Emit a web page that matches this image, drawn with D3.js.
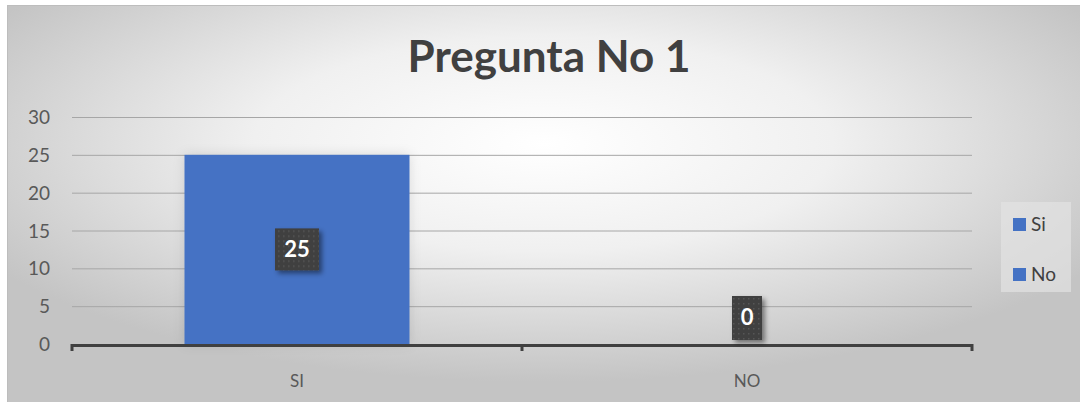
<!DOCTYPE html>
<html>
<head>
<meta charset="utf-8">
<script src="https://cdn.jsdelivr.net/npm/d3@7"></script>
<style>
body{margin:0;background:#fff;}
svg{display:block;}
text{font-family:Lato,"Open Sans",sans-serif;}
</style>
</head>
<body>
<script>
var categories = ["SI", "NO"];
var values = [25, 0];
var legendLabels = ["Si", "No"];
var yTicks = [0, 5, 10, 15, 20, 25, 30];

var W = 1080, H = 402;
var svg = d3.select("body").append("svg").attr("width", W).attr("height", H);
var defs = svg.append("defs");

var bg = defs.append("radialGradient").attr("id", "bg")
    .attr("cx", "50%").attr("cy", "35%").attr("r", "60%");
bg.append("stop").attr("offset", "0%").attr("stop-color", "#ffffff");
bg.append("stop").attr("offset", "45%").attr("stop-color", "#f0f0f0");
bg.append("stop").attr("offset", "100%").attr("stop-color", "#c4c4c4");

// dotted pattern for the label boxes
var pat = defs.append("pattern").attr("id", "dots")
    .attr("width", 5).attr("height", 5).attr("patternUnits", "userSpaceOnUse");
pat.append("rect").attr("width", 5).attr("height", 5).attr("fill", "#3f3f3f");
pat.append("rect").attr("x", 1).attr("y", 1).attr("width", 1.5).attr("height", 1.5).attr("fill", "#575757");

var sh = defs.append("filter").attr("id", "shadow")
    .attr("x", "-30%").attr("y", "-30%").attr("width", "170%").attr("height", "170%");
sh.append("feDropShadow").attr("dx", 3).attr("dy", 3).attr("stdDeviation", 2.5)
    .attr("flood-color", "#000").attr("flood-opacity", 0.45);

var glow = defs.append("filter").attr("id", "glow")
    .attr("x", "-20%").attr("y", "-10%").attr("width", "140%").attr("height", "120%");
glow.append("feDropShadow").attr("dx", 0).attr("dy", 0).attr("stdDeviation", 6)
    .attr("flood-color", "#000").attr("flood-opacity", 0.12);

svg.append("rect").attr("x", 7).attr("y", 5).attr("width", W - 7).attr("height", H - 5)
    .attr("fill", "url(#bg)");
svg.append("line").attr("x1", 7).attr("x2", W).attr("y1", 5.5).attr("y2", 5.5)
    .attr("stroke", "#bdbdbd");
svg.append("line").attr("x1", 7.5).attr("x2", 7.5).attr("y1", 5).attr("y2", H)
    .attr("stroke", "#bdbdbd");

svg.append("text").attr("x", 549).attr("y", 72)
    .attr("text-anchor", "middle")
    .attr("font-size", 44).attr("font-weight", "bold").attr("fill", "#404040")
    .text("Pregunta No 1");

var pLeft = 72, pRight = 972, pTop = 117, pBottom = 344;

var x = d3.scaleBand().domain(categories).range([pLeft, pRight]).paddingInner(0).paddingOuter(0);
var y = d3.scaleLinear().domain([0, 30]).range([pBottom, pTop]);

// gridlines
svg.append("g").selectAll("line").data(yTicks.filter(function(d){ return d > 0; }))
  .enter().append("line")
    .attr("x1", pLeft).attr("x2", pRight)
    .attr("y1", function(d){ return y(d) + 0.5; })
    .attr("y2", function(d){ return y(d) + 0.5; })
    .attr("stroke", "#a6a6a6").attr("stroke-width", 1);

// y labels
svg.append("g").selectAll("text").data(yTicks).enter().append("text")
    .attr("x", 50).attr("y", function(d){ return y(d) + 7; })
    .attr("text-anchor", "end")
    .attr("font-size", 19).attr("fill", "#595959")
    .text(function(d){ return d; });

// bars
var bw = x.bandwidth() / 2;
svg.append("g").selectAll("rect").data(values).enter().append("rect")
    .attr("x", function(d, i){ return x(categories[i]) + x.bandwidth() / 2 - bw / 2; })
    .attr("y", function(d){ return y(d); })
    .attr("width", bw)
    .attr("height", function(d){ return pBottom - y(d); })
    .attr("fill", "#4472c4")
    .attr("filter", "url(#glow)");

// x axis
svg.append("line").attr("x1", pLeft - 1).attr("x2", pRight + 1)
    .attr("y1", pBottom + 1.5).attr("y2", pBottom + 1.5)
    .attr("stroke", "#404040").attr("stroke-width", 3);
var tickX = categories.map(function(c){ return x(c); }).concat([pRight]);
svg.append("g").selectAll("line").data(tickX).enter().append("line")
    .attr("x1", function(d){ return d; }).attr("x2", function(d){ return d; })
    .attr("y1", pBottom).attr("y2", pBottom + 7)
    .attr("stroke", "#404040").attr("stroke-width", 3);

svg.append("g").selectAll("text").data(categories).enter().append("text")
    .attr("x", function(d){ return x(d) + x.bandwidth() / 2; })
    .attr("y", 387)
    .attr("text-anchor", "middle")
    .attr("font-size", 17).attr("fill", "#595959")
    .text(function(d){ return d; });

// data labels
var lbl = svg.append("g").selectAll("g").data(values).enter().append("g")
    .attr("transform", function(d, i){
        var cx = x(categories[i]) + x.bandwidth() / 2;
        var cy = d > 0 ? (y(d) + pBottom) / 2 : pBottom - 27;
        return "translate(" + cx + "," + cy + ")";
    });
lbl.append("rect")
    .attr("x", function(d){ return String(d).length > 1 ? -22 : -15; })
    .attr("y", -21)
    .attr("width", function(d){ return String(d).length > 1 ? 44 : 30; })
    .attr("height", function(d){ return String(d).length > 1 ? 42 : 44; })
    .attr("fill", "url(#dots)")
    .attr("filter", "url(#shadow)");
lbl.append("text")
    .attr("text-anchor", "middle").attr("y", 8)
    .attr("font-size", 22).attr("font-weight", "bold").attr("fill", "#ffffff")
    .text(function(d){ return d; });

// legend
svg.append("rect").attr("x", 1001).attr("y", 202).attr("width", 70).attr("height", 90)
    .attr("fill", "#e3e3e3").attr("opacity", 0.7);
var lg = svg.append("g").selectAll("g").data(legendLabels).enter().append("g")
    .attr("transform", function(d, i){ return "translate(1013," + (218 + i * 50) + ")"; });
lg.append("rect").attr("width", 13).attr("height", 13).attr("fill", "#4472c4");
lg.append("text").attr("x", 18).attr("y", 13)
    .attr("font-size", 19).attr("fill", "#404040")
    .text(function(d){ return d; });
</script>
</body>
</html>
